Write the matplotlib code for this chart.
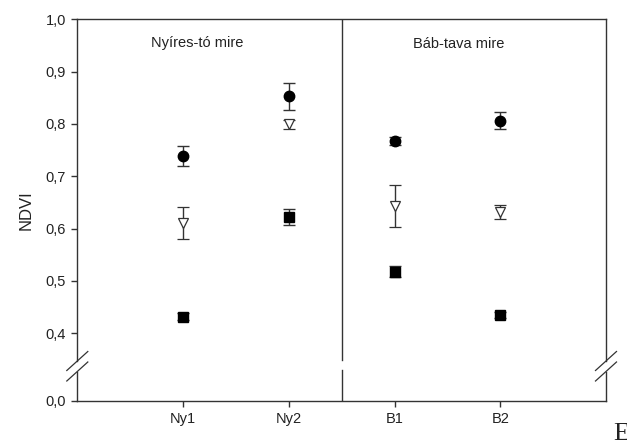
import numpy as np
import matplotlib
matplotlib.use("Agg")
import matplotlib.pyplot as plt

# ---- data ----
categories = ["Ny1", "Ny2", "B1", "B2"]
circle_mean = [0.739, 0.853, 0.767, 0.806]
circle_err = [0.019, 0.026, 0.008, 0.016]
triangle_mean = [0.611, 0.799, 0.644, 0.632]
triangle_err = [0.031, 0.009, 0.040, 0.014]
square_mean = [0.432, 0.622, 0.518, 0.435]
square_err = [0.006, 0.016, 0.010, 0.006]
ytick_values = [0.0, 0.4, 0.5, 0.6, 0.7, 0.8, 0.9, 1.0]
ytick_labels = ["0,0", "0,4", "0,5", "0,6", "0,7", "0,8", "0,9", "1,0"]
group_labels = ["Nyíres-tó mire", "Báb-tava mire"]

plt.rcParams['font.family'] = ['Liberation Sans', 'DejaVu Sans']

W, H = 627, 443
fig = plt.figure(figsize=(W / 100, H / 100), dpi=100)
ax_l, ax_r, ax_t, ax_b = 77.3, 606.0, 19.3, 401.0
ax = fig.add_axes([ax_l / W, (H - ax_b) / H, (ax_r - ax_l) / W, (ax_b - ax_t) / H])

# broken y axis via piecewise-linear scale
K = 0.3234
def fwd(v):
    v = np.asarray(v, dtype=float)
    return np.where(v >= 0.4, v, 0.4 - (0.4 - v) * K)
def inv(f):
    f = np.asarray(f, dtype=float)
    return np.where(f >= 0.4, f, 0.4 - (0.4 - f) / K)
ax.set_yscale('function', functions=(fwd, inv))

x = np.arange(1, len(categories) + 1)
lc = '#333333'
ekw = dict(ecolor=lc, elinewidth=1.0, capsize=4.3, capthick=1.0, linestyle='none')
ax.errorbar(x, circle_mean, yerr=circle_err, marker='o', ms=7.5,
            mfc='black', mec='black', zorder=3, **ekw)
ax.errorbar(x, triangle_mean, yerr=triangle_err, marker='v', ms=7.2,
            mfc='white', mec=lc, mew=0.9, zorder=3, **ekw)
ax.errorbar(x, square_mean, yerr=square_err, marker='s', ms=6.5,
            mfc='black', mec='black', zorder=3, **ekw)

ax.set_xlim(0, 5)
ax.set_ylim(0.0, 1.0)
ax.set_xticks(x)
ax.set_xticklabels(categories)
ax.set_yticks(ytick_values)
ax.set_yticklabels(ytick_labels)
ax.minorticks_off()
ax.tick_params(axis='both', direction='out', length=4, width=1.0, color=lc,
               labelsize=10.5, labelcolor='#222222', pad=4)
ax.set_ylabel("NDVI", fontsize=12, color='#222222', labelpad=9)

# spines
for s in ['left', 'right']:
    ax.spines[s].set_visible(False)
for s in ['top', 'bottom']:
    ax.spines[s].set_color(lc)
    ax.spines[s].set_linewidth(1.0)

hpx = ax_b - ax_t
g_hi = (ax_b - 361.0) / hpx
g_lo = (ax_b - 371.5) / hpx
for xs in [0.0, 1.0]:
    ax.plot([xs, xs], [0, g_lo], transform=ax.transAxes, color=lc, lw=1.0, clip_on=False)
    ax.plot([xs, xs], [g_hi, 1], transform=ax.transAxes, color=lc, lw=1.0, clip_on=False)
    dx = 10.5 / (ax_r - ax_l)
    dy = 9.5 / hpx
    for yc in [g_hi, g_lo]:
        ax.plot([xs - dx, xs + dx], [yc - dy, yc + dy], transform=ax.transAxes,
                color=lc, lw=0.9, clip_on=False)

# divider between mires
ax.plot([0.5, 0.5], [0, (ax_b - 370.0) / hpx], transform=ax.transAxes, color=lc, lw=1.0)
ax.plot([0.5, 0.5], [(ax_b - 360.0) / hpx, 1], transform=ax.transAxes, color=lc, lw=1.0)

ax.text(1.13, 0.938, group_labels[0], transform=ax.get_xaxis_transform(), ha='center',
        va='center', fontsize=10.5, color='#222222')
ax.text(3.61, 0.935, group_labels[1], transform=ax.get_xaxis_transform(), ha='center',
        va='center', fontsize=10.5, color='#222222')

fig.text(613 / W, 3 / H, "E", family=['Liberation Serif', 'DejaVu Serif'],
         fontsize=19, va='baseline', ha='left', color='#222222')

fig.savefig("out.png", dpi=100)
